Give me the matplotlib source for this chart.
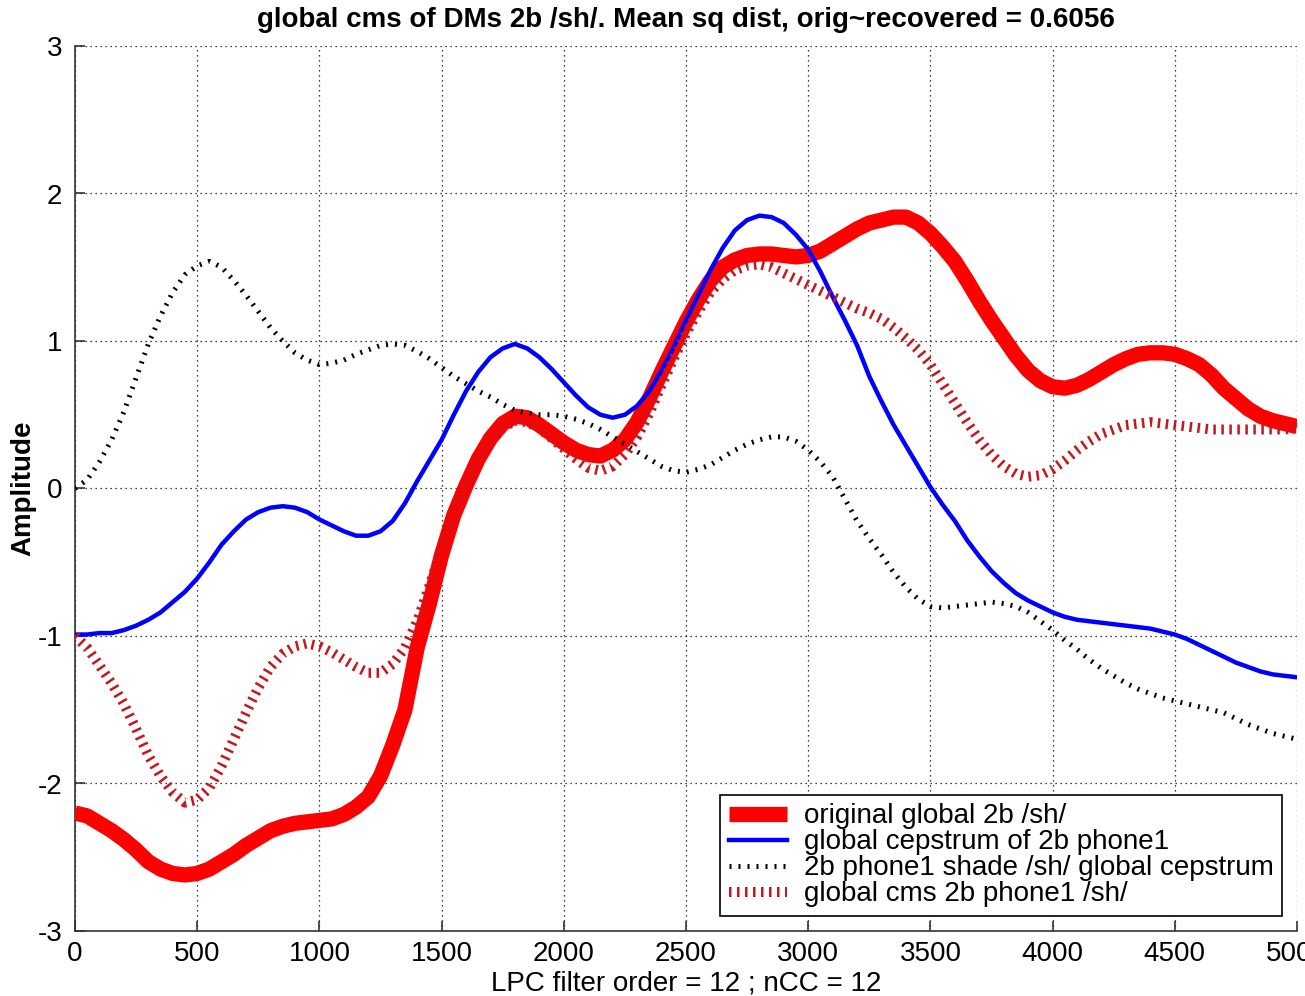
import numpy as np
import matplotlib
matplotlib.use("Agg")
import matplotlib.pyplot as plt

plt.rcParams['font.family'] = ['Liberation Sans', 'DejaVu Sans']
plt.rcParams['axes.unicode_minus'] = False

# Frequency axis (Hz), sampled every 50 Hz
freq = np.arange(0, 5001, 50)

orig_global = [
    -2.20, -2.22, -2.27, -2.32, -2.38, -2.45, -2.53, -2.58, -2.61, -2.62,
    -2.61, -2.58, -2.53, -2.48, -2.42, -2.37, -2.32, -2.29, -2.27, -2.26,
    -2.25, -2.24, -2.21, -2.16, -2.09, -1.95, -1.74, -1.50, -1.08, -0.78,
    -0.45, -0.18, 0.02, 0.20, 0.34, 0.44, 0.49, 0.48, 0.43, 0.37,
    0.31, 0.26, 0.23, 0.22, 0.26, 0.33, 0.45, 0.61, 0.79, 0.96,
    1.13, 1.28, 1.41, 1.50, 1.55, 1.58, 1.59, 1.59, 1.58, 1.57,
    1.58, 1.61, 1.66, 1.71, 1.76, 1.80, 1.82, 1.84, 1.84, 1.80,
    1.73, 1.64, 1.54, 1.41, 1.27, 1.14, 1.02, 0.90, 0.80, 0.73,
    0.69, 0.68, 0.70, 0.74, 0.79, 0.84, 0.88, 0.91, 0.92, 0.92,
    0.91, 0.88, 0.84, 0.77, 0.68, 0.61, 0.54, 0.49, 0.46, 0.44,
    0.42,
]

global_cep = [
    -0.99, -0.99, -0.98, -0.98, -0.96, -0.93, -0.89, -0.84, -0.77, -0.70,
    -0.61, -0.50, -0.38, -0.29, -0.21, -0.16, -0.13, -0.12, -0.13, -0.16,
    -0.21, -0.25, -0.29, -0.32, -0.32, -0.29, -0.22, -0.10, 0.05, 0.19,
    0.33, 0.50, 0.66, 0.79, 0.89, 0.95, 0.98, 0.95, 0.89, 0.81,
    0.72, 0.63, 0.55, 0.50, 0.48, 0.50, 0.56, 0.66, 0.80, 0.96,
    1.14, 1.31, 1.48, 1.63, 1.75, 1.82, 1.85, 1.84, 1.80, 1.72,
    1.62, 1.47, 1.30, 1.14, 0.97, 0.76, 0.59, 0.43, 0.29, 0.15,
    0.01, -0.11, -0.22, -0.35, -0.46, -0.56, -0.64, -0.71, -0.76, -0.80,
    -0.84, -0.87, -0.89, -0.90, -0.91, -0.92, -0.93, -0.94, -0.95, -0.97,
    -0.99, -1.02, -1.06, -1.10, -1.14, -1.18, -1.21, -1.24, -1.26, -1.27,
    -1.28,
]

phone_shade = [
    0.00, 0.06, 0.18, 0.33, 0.52, 0.75, 0.98, 1.17, 1.33, 1.45,
    1.51, 1.54, 1.50, 1.41, 1.31, 1.20, 1.09, 1.00, 0.92, 0.87,
    0.84, 0.85, 0.87, 0.91, 0.94, 0.97, 0.98, 0.97, 0.93, 0.88,
    0.82, 0.76, 0.71, 0.66, 0.62, 0.57, 0.53, 0.51, 0.50, 0.50,
    0.49, 0.47, 0.44, 0.40, 0.35, 0.30, 0.25, 0.20, 0.15, 0.12,
    0.11, 0.13, 0.16, 0.21, 0.26, 0.30, 0.33, 0.35, 0.35, 0.32,
    0.26, 0.18, 0.08, -0.07, -0.22, -0.34, -0.45, -0.57, -0.67, -0.75,
    -0.80, -0.81, -0.80, -0.79, -0.78, -0.77, -0.78, -0.80, -0.84, -0.90,
    -0.96, -1.03, -1.09, -1.16, -1.22, -1.27, -1.32, -1.36, -1.39, -1.42,
    -1.44, -1.46, -1.48, -1.50, -1.52, -1.56, -1.60, -1.63, -1.66, -1.68,
    -1.70,
]

global_cms = [
    -1.00, -1.08, -1.20, -1.32, -1.46, -1.63, -1.81, -1.95, -2.06, -2.13,
    -2.11, -2.03, -1.88, -1.70, -1.52, -1.35, -1.21, -1.12, -1.07, -1.05,
    -1.07, -1.11, -1.16, -1.21, -1.25, -1.25, -1.19, -1.08, -0.90, -0.66,
    -0.41, -0.18, 0.02, 0.19, 0.32, 0.41, 0.46, 0.45, 0.41, 0.34,
    0.27, 0.20, 0.14, 0.12, 0.15, 0.23, 0.35, 0.51, 0.70, 0.88,
    1.05, 1.20, 1.33, 1.42, 1.48, 1.51, 1.52, 1.50, 1.46, 1.42,
    1.38, 1.34, 1.30, 1.26, 1.22, 1.19, 1.15, 1.09, 1.02, 0.94,
    0.84, 0.71, 0.58, 0.45, 0.33, 0.23, 0.15, 0.10, 0.08, 0.09,
    0.13, 0.19, 0.26, 0.32, 0.37, 0.40, 0.43, 0.44, 0.45, 0.44,
    0.43, 0.42, 0.41, 0.40, 0.40, 0.40, 0.40, 0.40, 0.40, 0.40,
    0.41,
]

labels = [
    "original global 2b /sh/",
    "global cepstrum of 2b phone1",
    "2b phone1 shade /sh/ global cepstrum",
    "global cms 2b phone1 /sh/",
]

W, H = 1305, 996
fig = plt.figure(figsize=(W / 100, H / 100), dpi=100)
ax = fig.add_axes([75 / W, 1 - 931 / H, 1222 / W, 885 / H])

ax.plot(freq, orig_global, color="#ff0000", lw=11, solid_capstyle="butt",
        solid_joinstyle="round", label=labels[0], zorder=3)
ax.plot(freq, global_cep, color="#0000ff", lw=3.2, solid_joinstyle="round",
        label=labels[1], zorder=4)
ax.plot(freq, phone_shade, color="black", lw=3.6, linestyle=(0, (0.4, 1.4)),
        dash_capstyle="butt", label=labels[2], zorder=5)
ax.plot(freq, global_cms, color="#c8161e", lw=7.2, linestyle=(0, (0.25, 0.55)),
        dash_capstyle="butt", label=labels[3], zorder=6)

ax.set_xlim(0, 5000)
ax.set_ylim(-3, 3)
ax.set_xticks(np.arange(0, 5001, 500))
ax.set_yticks(np.arange(-3, 4, 1))

for side in ("top", "right"):
    ax.spines[side].set_visible(False)
for side in ("left", "bottom"):
    ax.spines[side].set_color("#333333")
    ax.spines[side].set_linewidth(1.2)

ax.grid(True, color="black", linestyle=(0, (1, 3)), linewidth=0.9)
ax.tick_params(direction="in", length=7, width=1.2, color="#333333",
               labelsize=20)
ax.tick_params(axis="x", pad=7)
ax.tick_params(axis="y", pad=9)

ax.set_title("global cms of DMs 2b /sh/. Mean sq dist, orig~recovered = 0.6056",
             fontsize=20, fontweight="bold", pad=14)
ax.set_xlabel("LPC filter order = 12 ; nCC = 12", fontsize=20, labelpad=3)
ax.set_ylabel("Amplitude", fontsize=20, fontweight="bold", labelpad=1)

leg = ax.legend(loc="lower right", fontsize=20, frameon=True, fancybox=False,
                framealpha=1, edgecolor="black", handlelength=2.1,
                borderaxespad=0.55, labelspacing=0.0, borderpad=0.3,
                handletextpad=0.6)
leg.get_frame().set_linewidth(1.2)

fig.savefig("out.png", dpi=100)
